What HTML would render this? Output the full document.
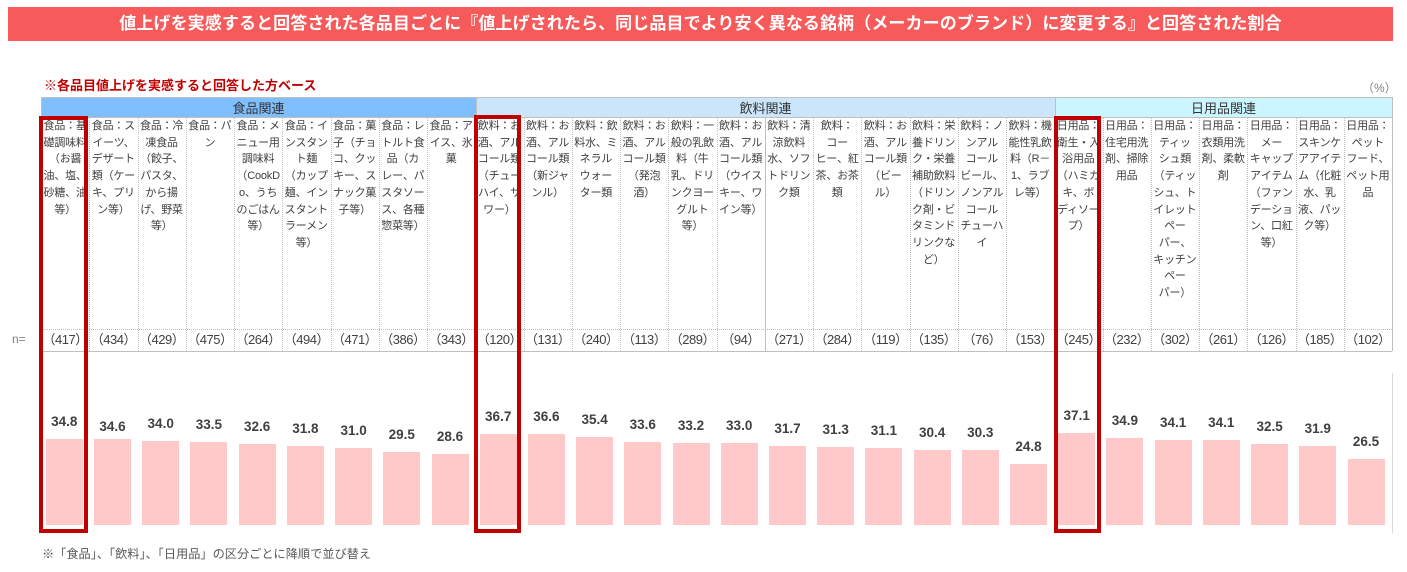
<!DOCTYPE html>
<html><head><meta charset="utf-8">
<style>
*{margin:0;padding:0;box-sizing:border-box}
body{width:1407px;height:572px;background:#fff;position:relative;overflow:hidden;font-family:"Liberation Sans","Noto Sans CJK JP",sans-serif;color:#404040}
.a{position:absolute}
#title{left:8px;top:7px;width:1385px;height:34px;background:#f65a5a;color:#fff;font-weight:bold;font-size:17px;line-height:34px;text-align:center;white-space:nowrap;letter-spacing:0.1px}
#sub{left:44px;top:77px;font-size:13px;font-weight:bold;color:#c00000;line-height:18px;white-space:nowrap}
#pct{left:1362px;top:80px;font-size:12px;color:#7f7f7f;line-height:16px}
.band{top:97px;height:21px;font-size:13px;line-height:21px;text-align:center;color:#333;border-top:1px solid #bfbfbf;border-bottom:1px solid #bfbfbf}
.col{top:118px;width:48.25px;font-size:11px;line-height:16.7px;text-align:center;white-space:nowrap;color:#404040;letter-spacing:-0.2px}
.n{top:328px;width:48.25px;height:23px;font-size:13px;line-height:23px;text-align:center;white-space:nowrap;color:#404040;letter-spacing:-0.5px}
.vd{top:118px;height:233px;width:0;border-left:1px dotted #bfbfbf}
.vs{top:97px;height:254px;width:0;border-left:1px solid #bfbfbf}
.bar{width:37px;background:#ffc9c9}
.bar span{position:absolute;top:-25px;left:-6px;width:49px;text-align:center;font-size:13.5px;font-weight:bold;line-height:16px;color:#404040}
.rb{border:4px solid #c00000;z-index:5}
</style></head><body>
<div class="a" id="title">値上げを実感すると回答された各品目ごとに『値上げされたら、同じ品目でより安く異なる銘柄（メーカーのブランド）に変更する』と回答された割合</div>
<div class="a" id="sub">※各品目値上げを実感すると回答した方ベース</div>
<div class="a" id="pct">（%）</div>

<div class="a band" style="left:41px;width:435px;background:#80bfff">食品関連</div>
<div class="a band" style="left:476px;width:579px;background:#cbe6fb">飲料関連</div>
<div class="a band" style="left:1055px;width:337px;background:#ccf6ff">日用品関連</div>

<!-- lines -->
<div class="a" style="left:41px;top:329px;width:1351px;height:0;border-top:1px dotted #bfbfbf"></div>
<div class="a" style="left:41px;top:351px;width:1351px;height:0;border-top:1px solid #bfbfbf"></div>
<div class="a vs" style="left:41px"></div>
<div class="a vs" style="left:1392px"></div>
<div class="a vs" style="left:475.5px"></div>
<div class="a vs" style="left:1054.5px"></div>
<div class="a vs" style="left:764.5px;top:118px;height:233px"></div>
<div class="a vd" style="left:89.25px"></div>
<div class="a vd" style="left:137.5px"></div>
<div class="a vd" style="left:185.75px"></div>
<div class="a vd" style="left:234px"></div>
<div class="a vd" style="left:282.25px"></div>
<div class="a vd" style="left:330.5px"></div>
<div class="a vd" style="left:378.75px"></div>
<div class="a vd" style="left:427px"></div>
<div class="a vd" style="left:523.5px"></div>
<div class="a vd" style="left:571.75px"></div>
<div class="a vd" style="left:620px"></div>
<div class="a vd" style="left:668.25px"></div>
<div class="a vd" style="left:716.5px"></div>
<div class="a vd" style="left:813px"></div>
<div class="a vd" style="left:861.25px"></div>
<div class="a vd" style="left:909.5px"></div>
<div class="a vd" style="left:957.75px"></div>
<div class="a vd" style="left:1006px"></div>
<div class="a vd" style="left:1102.5px"></div>
<div class="a vd" style="left:1150.75px"></div>
<div class="a vd" style="left:1199px"></div>
<div class="a vd" style="left:1247.25px"></div>
<div class="a vd" style="left:1295.5px"></div>
<div class="a vd" style="left:1343.75px"></div>

<!-- column headers -->
<div class="a col" style="left:41px">食品：基<br>礎調味料<br>（お醤<br>油、塩、<br>砂糖、油<br>等）</div>
<div class="a col" style="left:89.25px">食品：ス<br>イーツ、<br>デザート<br>類（ケー<br>キ、プリ<br>ン等）</div>
<div class="a col" style="left:137.5px">食品：冷<br>凍食品<br>（餃子、<br>パスタ、<br>から揚<br>げ、野菜<br>等）</div>
<div class="a col" style="left:185.75px">食品：パ<br>ン</div>
<div class="a col" style="left:234px">食品：メ<br>ニュー用<br>調味料<br>（CookD<br>o、うち<br>のごはん<br>等）</div>
<div class="a col" style="left:282.25px">食品：イ<br>ンスタン<br>ト麺<br>（カップ<br>麺、イン<br>スタント<br>ラーメン<br>等）</div>
<div class="a col" style="left:330.5px">食品：菓<br>子（チョ<br>コ、クッ<br>キー、ス<br>ナック菓<br>子等）</div>
<div class="a col" style="left:378.75px">食品：レ<br>トルト食<br>品（カ<br>レー、パ<br>スタソー<br>ス、各種<br>惣菜等）</div>
<div class="a col" style="left:427px">食品：ア<br>イス、氷<br>菓</div>
<div class="a col" style="left:475.25px">飲料：お<br>酒、アル<br>コール類<br>（チュー<br>ハイ、サ<br>ワー）</div>
<div class="a col" style="left:523.5px">飲料：お<br>酒、アル<br>コール類<br>（新ジャ<br>ンル）</div>
<div class="a col" style="left:571.75px">飲料：飲<br>料水、ミ<br>ネラル<br>ウォー<br>ター類</div>
<div class="a col" style="left:620px">飲料：お<br>酒、アル<br>コール類<br>（発泡<br>酒）</div>
<div class="a col" style="left:668.25px">飲料：一<br>般の乳飲<br>料（牛<br>乳、ドリ<br>ンクヨー<br>グルト<br>等）</div>
<div class="a col" style="left:716.5px">飲料：お<br>酒、アル<br>コール類<br>（ウイス<br>キー、ワ<br>イン等）</div>
<div class="a col" style="left:764.75px">飲料：清<br>涼飲料<br>水、ソフ<br>トドリン<br>ク類</div>
<div class="a col" style="left:813px">飲料：<br>コー<br>ヒー、紅<br>茶、お茶<br>類</div>
<div class="a col" style="left:861.25px">飲料：お<br>酒、アル<br>コール類<br>（ビー<br>ル）</div>
<div class="a col" style="left:909.5px">飲料：栄<br>養ドリン<br>ク・栄養<br>補助飲料<br>（ドリン<br>ク剤・ビ<br>タミンド<br>リンクな<br>ど）</div>
<div class="a col" style="left:957.75px">飲料：ノ<br>ンアル<br>コール<br>ビール、<br>ノンアル<br>コール<br>チューハ<br>イ</div>
<div class="a col" style="left:1006px">飲料：機<br>能性乳飲<br>料（R－<br>1、ラブ<br>レ等）</div>
<div class="a col" style="left:1054.25px">日用品：<br>衛生・入<br>浴用品<br>（ハミガ<br>キ、ボ<br>ディソー<br>プ）</div>
<div class="a col" style="left:1102.5px">日用品：<br>住宅用洗<br>剤、掃除<br>用品</div>
<div class="a col" style="left:1150.75px">日用品：<br>ティッ<br>シュ類<br>（ティッ<br>シュ、ト<br>イレット<br>ペー<br>パー、<br>キッチン<br>ペー<br>パー）</div>
<div class="a col" style="left:1199px">日用品：<br>衣類用洗<br>剤、柔軟<br>剤</div>
<div class="a col" style="left:1247.25px">日用品：<br>メー<br>キャップ<br>アイテム<br>（ファン<br>デーショ<br>ン、口紅<br>等）</div>
<div class="a col" style="left:1295.5px">日用品：<br>スキンケ<br>アアイテ<br>ム（化粧<br>水、乳<br>液、パッ<br>ク等）</div>
<div class="a col" style="left:1343.75px">日用品：<br>ペット<br>フード、<br>ペット用<br>品</div>

<!-- n row -->
<div class="a" style="left:12px;top:331px;font-size:12px;line-height:16px;color:#7f7f7f">n=</div>
<div class="a n" style="left:41px">（417）</div>
<div class="a n" style="left:89.25px">（434）</div>
<div class="a n" style="left:137.5px">（429）</div>
<div class="a n" style="left:185.75px">（475）</div>
<div class="a n" style="left:234px">（264）</div>
<div class="a n" style="left:282.25px">（494）</div>
<div class="a n" style="left:330.5px">（471）</div>
<div class="a n" style="left:378.75px">（386）</div>
<div class="a n" style="left:427px">（343）</div>
<div class="a n" style="left:475.25px">（120）</div>
<div class="a n" style="left:523.5px">（131）</div>
<div class="a n" style="left:571.75px">（240）</div>
<div class="a n" style="left:620px">（113）</div>
<div class="a n" style="left:668.25px">（289）</div>
<div class="a n" style="left:716.5px">（94）</div>
<div class="a n" style="left:764.75px">（271）</div>
<div class="a n" style="left:813px">（284）</div>
<div class="a n" style="left:861.25px">（119）</div>
<div class="a n" style="left:909.5px">（135）</div>
<div class="a n" style="left:957.75px">（76）</div>
<div class="a n" style="left:1006px">（153）</div>
<div class="a n" style="left:1054.25px">（245）</div>
<div class="a n" style="left:1102.5px">（232）</div>
<div class="a n" style="left:1150.75px">（302）</div>
<div class="a n" style="left:1199px">（261）</div>
<div class="a n" style="left:1247.25px">（126）</div>
<div class="a n" style="left:1295.5px">（185）</div>
<div class="a n" style="left:1343.75px">（102）</div>

<!-- plot right border -->
<div class="a" style="left:1392px;top:373px;width:1px;height:160px;background:#d9d9d9"></div>

<!-- bars -->
<div class="a bar" style="left:45.8px;top:438.7px;height:86.3px"><span>34.8</span></div>
<div class="a bar" style="left:94px;top:439.2px;height:85.8px"><span style="top:-20px">34.6</span></div>
<div class="a bar" style="left:142.2px;top:440.7px;height:84.3px"><span>34.0</span></div>
<div class="a bar" style="left:190.4px;top:441.9px;height:83.1px"><span>33.5</span></div>
<div class="a bar" style="left:238.6px;top:444.2px;height:80.8px"><span>32.6</span></div>
<div class="a bar" style="left:286.9px;top:446.1px;height:78.9px"><span>31.8</span></div>
<div class="a bar" style="left:335.1px;top:448.1px;height:76.9px"><span>31.0</span></div>
<div class="a bar" style="left:383.3px;top:451.8px;height:73.2px"><span>29.5</span></div>
<div class="a bar" style="left:431.5px;top:454.1px;height:70.9px"><span>28.6</span></div>
<div class="a bar" style="left:479.7px;top:434px;height:91px"><span>36.7</span></div>
<div class="a bar" style="left:527.9px;top:434.2px;height:90.8px"><span>36.6</span></div>
<div class="a bar" style="left:576.1px;top:437.2px;height:87.8px"><span>35.4</span></div>
<div class="a bar" style="left:624.3px;top:441.7px;height:83.3px"><span>33.6</span></div>
<div class="a bar" style="left:672.5px;top:442.7px;height:82.3px"><span>33.2</span></div>
<div class="a bar" style="left:720.7px;top:443.2px;height:81.8px"><span>33.0</span></div>
<div class="a bar" style="left:769px;top:446.4px;height:78.6px"><span>31.7</span></div>
<div class="a bar" style="left:817.2px;top:447.4px;height:77.6px"><span>31.3</span></div>
<div class="a bar" style="left:865.4px;top:447.9px;height:77.1px"><span>31.1</span></div>
<div class="a bar" style="left:913.6px;top:449.6px;height:75.4px"><span>30.4</span></div>
<div class="a bar" style="left:961.8px;top:449.9px;height:75.1px"><span>30.3</span></div>
<div class="a bar" style="left:1010px;top:463.5px;height:61.5px"><span>24.8</span></div>
<div class="a bar" style="left:1058.2px;top:433px;height:92px"><span>37.1</span></div>
<div class="a bar" style="left:1106.4px;top:438.4px;height:86.6px"><span>34.9</span></div>
<div class="a bar" style="left:1154.6px;top:440.4px;height:84.6px"><span>34.1</span></div>
<div class="a bar" style="left:1202.8px;top:440.4px;height:84.6px"><span>34.1</span></div>
<div class="a bar" style="left:1251.1px;top:444.4px;height:80.6px"><span>32.5</span></div>
<div class="a bar" style="left:1299.3px;top:445.9px;height:79.1px"><span>31.9</span></div>
<div class="a bar" style="left:1347.5px;top:459.3px;height:65.7px"><span>26.5</span></div>

<!-- red highlight boxes -->
<div class="a rb" style="left:39px;top:116px;width:49px;height:417px"></div>
<div class="a rb" style="left:474px;top:115px;width:47px;height:418px"></div>
<div class="a rb" style="left:1054px;top:116px;width:47px;height:417px"></div>

<div class="a" style="left:42px;top:546px;font-size:12.2px;line-height:16px;color:#595959;white-space:nowrap">※「食品」、「飲料」、「日用品」の区分ごとに降順で並び替え</div>
</body></html>
